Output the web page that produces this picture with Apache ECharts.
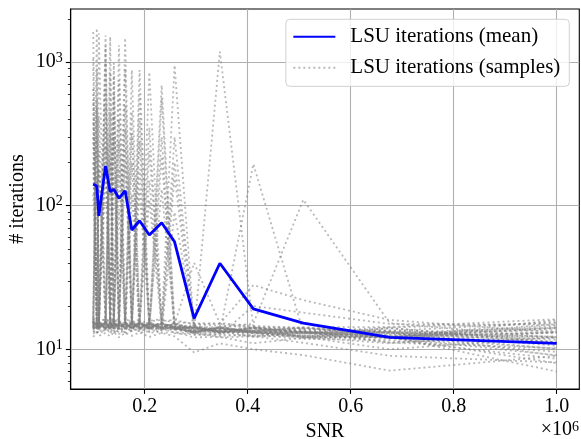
<!DOCTYPE html>
<html><head><meta charset="utf-8">
<script src="https://cdn.jsdelivr.net/npm/echarts@6/dist/echarts.min.js"></script>
<style>html,body{margin:0;padding:0;background:#fff}#c{width:581px;height:439px}</style>
</head><body><div id="c"></div>
<script>
// SNR values (x)
const snr = [100000, 107000, 111000, 124000, 133000, 140000, 150000, 162000, 175000, 190000,
             209000, 233000, 258000, 296000, 346000, 411000, 508000, 676000, 1000000];
// mean LSU iterations
const meanIterations = [141, 137, 85, 189, 125, 130, 112.5, 127, 67.7, 78.5,
                        62.5, 76, 56, 16.4, 39.7, 19.1, 15.2, 12.1, 11.0];
// individual samples
const sample01 = [1620,15.2,14.1,16.3,14.6,15.0,13.8,250,15.4,14.2,13.9,15.1,14.4,14.0,13.2,13.5,14.1,13.0,12.1];
const sample02 = [14.3,1720,15.5,13.9,15.2,14.4,15.8,14.0,13.6,280,14.7,14.2,15.3,13.4,14.0,13.1,13.3,12.4,14.2];
const sample03 = [15.6,14.2,1580,15.0,13.8,16.1,14.3,15.5,14.0,15.2,150,14.6,13.9,14.3,13.6,14.2,13.0,13.3,11.0];
const sample04 = [13.8,15.1,14.4,1530,15.3,13.9,15.0,14.2,15.7,13.8,14.5,300,14.0,13.2,14.4,13.0,12.5,12.2,10.1];
const sample05 = [16.2,14.0,15.3,14.5,1500,15.4,13.7,15.1,14.3,15.5,14.2,13.8,90,14.5,13.3,14.0,13.2,14.2,15.2];
const sample06 = [200,15.4,13.9,15.2,14.1,985,15.6,14.0,15.1,13.7,15.3,14.4,14.1,13.0,14.2,12.4,13.3,12.3,13.1];
const sample07 = [14.1,300,15.7,14.2,15.5,14.0,1310,15.2,13.9,15.4,14.1,15.0,14.3,14.4,13.1,13.4,14.0,13.2,9.0];
const sample08 = [15.3,13.8,180,15.6,14.0,15.2,14.6,1470,15.0,14.3,15.5,14.0,13.7,13.5,13.0,14.2,13.4,11.2,12.0];
const sample09 = [13.6,15.5,14.0,350,15.4,13.8,15.1,14.5,880,15.3,13.9,14.2,15.0,14.1,13.4,13.2,12.4,12.0,16.0];
const sample10 = [15.1,14.3,15.9,14.1,220,15.5,13.9,15.3,14.2,880,15.1,13.8,14.3,13.1,14.0,13.3,12.9,14.0,11.1];
const sample11 = [14.4,15.8,13.7,15.3,14.2,300,15.4,13.8,15.6,14.0,850,15.2,14.1,14.2,13.3,14.1,13.1,12.1,8.0];
const sample12 = [15.5,14.1,15.2,13.9,15.6,14.3,180,15.0,14.1,15.4,13.8,690,15.2,13.4,14.1,13.0,12.3,13.1,14.1];
const sample13 = [380,15.3,14.2,15.5,13.8,15.1,14.4,15.6,13.9,15.0,14.3,15.4,950,14.0,13.2,13.3,14.2,12.2,12.3];
const sample14 = [1050,14.2,15.4,14.0,15.3,13.7,15.2,14.4,200,14.1,15.0,13.9,14.5,13.2,14.0,13.4,13.0,13.0,10.0];
const sample15 = [15.0,900,14.3,15.5,14.0,15.3,13.8,15.4,14.2,600,14.4,15.1,13.8,14.4,13.1,14.0,12.2,11.0,13.2];
const sample16 = [14.2,15.4,14.0,1300,15.1,14.5,15.6,13.9,15.2,14.1,350,14.3,15.0,13.0,13.4,12.2,13.1,12.1,15.0];
const sample17 = [15.4,13.9,15.5,14.1,850,15.0,14.2,15.3,13.8,15.6,14.0,560,14.2,14.1,13.0,13.1,12.0,14.1,11.2];
const sample18 = [14.0,15.6,14.1,15.3,13.9,800,15.2,14.0,15.5,14.2,15.1,14.0,300,14.3,14.2,13.2,13.0,12.0,9.1];
const sample19 = [650,14.1,15.3,13.8,15.5,14.2,750,15.0,14.3,15.1,13.9,15.2,14.0,13.3,13.1,14.0,13.3,13.3,12.2];
const sample20 = [15.2,550,13.9,15.4,14.2,15.0,13.8,900,15.3,14.0,15.2,14.1,13.9,14.2,13.3,13.0,12.1,12.3,13.0];
const sample21 = [14.5,15.0,14.2,1000,15.3,13.9,15.4,14.1,450,15.0,14.2,15.3,14.1,13.1,14.3,13.2,13.2,11.1,10.2];
const sample22 = [15.1,14.4,420,15.2,14.0,15.5,400,15.1,14.0,15.3,14.1,14.0,15.1,14.0,13.3,14.1,12.1,12.1,14.0];
const sample23 = [13.9,15.3,14.1,650,15.0,600,15.3,14.2,15.0,13.9,15.4,14.2,14.0,13.2,14.1,13.0,13.1,13.2,11.2];
const sample24 = [15.4,14.0,15.2,14.3,450,15.1,14.0,500,14.2,15.2,14.0,15.1,14.3,14.2,13.1,13.3,12.2,10.0,12.2];
const sample25 = [14.1,15.2,14.4,15.0,13.9,15.4,14.2,15.0,13.8,15.1,14.3,14.1,14.0,13.2,1180,14.2,13.1,12.1,13.2];
const sample26 = [15.3,14.2,15.0,13.8,15.2,14.0,15.4,14.3,15.1,14.0,15.3,13.9,14.2,14.1,13.2,195,13.2,12.2,14.1];
const sample27 = [14.0,15.3,14.0,15.4,14.2,15.1,13.9,15.2,14.1,15.0,14.0,15.2,13.8,13.0,14.2,15.1,110,15.2,12.0];
const sample28 = [15.2,14.1,15.3,14.0,15.0,14.2,15.1,13.9,15.3,14.1,15.0,14.2,15.0,40,15.1,28,22,16.0,13.1];
const sample29 = [12.2,13.1,12.4,13.0,12.3,13.2,12.1,13.0,12.4,13.1,12.2,13.0,12.3,9.5,11.0,10.0,9.1,7.1,9.0];
const sample30 = [14.2,13.1,14.0,13.3,14.1,13.0,14.2,13.1,14.0,13.3,14.1,13.0,13.2,12.1,12.2,11.0,12.0,12.2,7.0];
const sample31 = [16.4,16.0,15.6,16.3,15.5,16.1,15.4,16.2,15.6,15.3,15.7,16.0,15.4,15.2,15.0,14.3,14.2,14.3,16.2];
const sample32 = [13.2,14.0,13.3,14.1,13.0,14.2,13.1,14.0,13.3,14.1,13.2,14.0,13.1,13.0,12.1,12.3,11.1,9.0,8.1];
const sample33 = [120,15.0,14.3,260,14.8,15.2,95,14.4,15.1,130,14.6,15.0,14.2,14.0,13.4,13.6,13.2,12.8,13.6];
const sample34 = [14.6,160,14.9,15.1,320,14.3,15.0,200,14.4,15.2,110,14.1,14.8,13.6,13.8,13.0,12.8,12.6,14.6];
const sample35 = [15.8,14.6,240,15.2,14.4,160,15.1,14.7,320,14.6,15.0,130,14.5,14.6,13.7,13.5,13.6,13.4,15.5];
const sample36 = [16.0,480,15.6,16.2,15.7,16.4,280,15.9,16.1,180,15.8,16.2,200,15.0,15.2,14.6,14.0,13.0,10.6];
const sample37 = [520,15.9,16.3,150,16.0,15.8,16.2,340,15.6,16.1,240,15.7,16.0,14.9,14.6,14.2,13.8,13.6,11.6];
const sample38 = [12.8,13.4,12.9,13.6,200,13.2,13.5,12.9,13.4,400,13.0,13.3,160,12.6,12.8,12.3,12.4,12.0,9.6];
const sample39 = [13.4,12.9,13.6,500,13.1,13.5,12.8,13.3,120,13.0,13.4,220,12.9,12.7,12.4,12.6,11.8,11.6,8.6];
const sample40 = [300,13.8,14.2,13.6,14.0,420,13.7,14.1,13.5,13.9,14.0,13.6,13.8,13.0,12.6,20,18,15,14.8];
const samples = [sample01,sample02,sample03,sample04,sample05,sample06,sample07,sample08,
  sample09,sample10,sample11,sample12,sample13,sample14,sample15,sample16,sample17,sample18,
  sample19,sample20,sample21,sample22,sample23,sample24,sample25,sample26,sample27,sample28,
  sample29,sample30,sample31,sample32,sample33,sample34,sample35,sample36,sample37,sample38,
  sample39,sample40];
// ticks and limits
const xTickValues = [200000, 400000, 600000, 800000, 1000000];
const yMajorTicks = [10, 100, 1000];
const yMinorTicks = [6,7,8,9,20,30,40,50,60,70,80,90,200,300,400,500,600,700,800,900,2000];
const xLimits = [56300, 1044000];
const yLimits = [5.29, 2340];
const meanName = 'LSU iterations (mean)';
const sampleName = 'LSU iterations (samples)';

const FONT = 'Liberation Serif';
const chart = echarts.init(document.getElementById('c'), null, {renderer: 'canvas'});
const pair = arr => snr.map((x, i) => [x, arr[i]]);

const series = samples.map(s => ({
  type: 'line', name: sampleName, data: pair(s), symbol: 'none', z: 2,
  lineStyle: {color: 'rgba(128,128,128,0.55)', width: 1.8, type: [2, 3]},
  itemStyle: {color: 'rgba(128,128,128,0.55)'}
}));
series.push({
  type: 'line', name: meanName, data: pair(meanIterations), symbol: 'none', z: 5,
  lineStyle: {color: '#0000ff', width: 2.8}, itemStyle: {color: '#0000ff'}
});

chart.setOption({
  animation: false,
  backgroundColor: '#ffffff',
  textStyle: {fontFamily: FONT},
  grid: {left: 70.7, right: 1.7, top: 9, bottom: 50, show: true, borderColor: '#000', borderWidth: 1.1,
         backgroundColor: 'transparent', outerBoundsMode: 'none', containLabel: false},
  legend: {
    data: [meanName, sampleName], orient: 'vertical', right: 11.7, top: 19.3,
    itemWidth: 42, itemHeight: 14, itemGap: 10,
    padding: [7, 9, 8, 6.5],
    itemStyle: {opacity: 0},
    backgroundColor: 'rgba(255,255,255,0.8)', borderColor: '#d0d0d0', borderWidth: 1, borderRadius: 4,
    formatter: n => '{g|}' + n,
    textStyle: {fontFamily: FONT, fontSize: 21, lineHeight: 20, color: '#000', rich: {g: {width: 10}}}
  },
  xAxis: {
    type: 'value', min: xLimits[0], max: xLimits[1],
    name: 'SNR', nameLocation: 'middle', nameGap: 27,
    nameTextStyle: {fontFamily: FONT, fontSize: 20, color: '#000'},
    axisLine: {show: true, lineStyle: {color: '#000', width: 1.1}},
    axisTick: {show: true, inside: false, length: 4.9, customValues: xTickValues, lineStyle: {color: '#000', width: 1.1}},
    axisLabel: {customValues: xTickValues, margin: 8, fontFamily: FONT, fontSize: 20, color: '#000',
                formatter: v => (v / 1e6).toFixed(1)},
    splitLine: {show: true, lineStyle: {color: '#b0b0b0', width: 1.1}}
  },
  yAxis: [{
    type: 'log', logBase: 10, min: yLimits[0], max: yLimits[1],
    name: '# iterations', nameLocation: 'middle', nameGap: 43, nameRotate: 90, nameMoveOverlap: false,
    nameTextStyle: {fontFamily: FONT, fontSize: 20, color: '#000'},
    axisLine: {show: true, lineStyle: {color: '#000', width: 1.1}},
    axisTick: {show: true, inside: false, length: 4.9, customValues: yMajorTicks, lineStyle: {color: '#000', width: 1.1}},
    axisLabel: {customValues: yMajorTicks, margin: 8, color: '#000',
      formatter: v => '{b|10}{s|' + Math.round(Math.log10(v)) + '}',
      rich: {b: {fontFamily: FONT, fontSize: 20, lineHeight: 22, color: '#000'},
             s: {fontFamily: FONT, fontSize: 14, lineHeight: 22, verticalAlign: 'top', color: '#000'}}},
    splitLine: {show: true, lineStyle: {color: '#b0b0b0', width: 1.1}},
    minorTick: {show: false}
  }, {
    type: 'log', logBase: 10, min: yLimits[0], max: yLimits[1], position: 'left',
    axisLine: {show: false},
    axisTick: {show: true, inside: false, length: 2.8, customValues: yMinorTicks, lineStyle: {color: '#000', width: 0.8}},
    axisLabel: {show: false},
    splitLine: {show: false}
  }],
  graphic: [{
    type: 'text', right: 2, top: 420,
    style: {text: '×10{s|6}', fontFamily: FONT, fontSize: 20, fill: '#000',
            rich: {s: {fontFamily: FONT, fontSize: 14, verticalAlign: 'top'}}}
  }],
  series: series
});
</script>
</body></html>
